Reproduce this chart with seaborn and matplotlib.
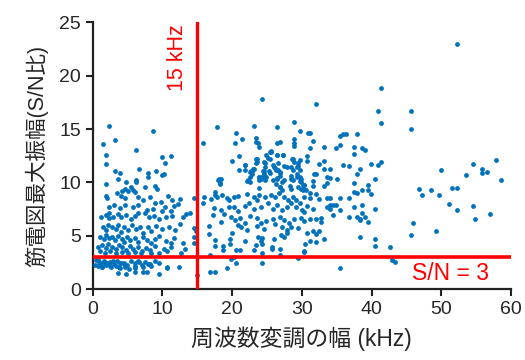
import numpy as np
import pandas as pd
import matplotlib
matplotlib.use('Agg')
import matplotlib.pyplot as plt
import seaborn as sns

sns.set_style("ticks")
plt.rcParams['font.family'] = ['Liberation Sans', 'Noto Sans CJK JP', 'DejaVu Sans']

# ---- data (kHz, S/N) ----
left_x = [2.33, 8.66, 3.19, 1.52, 6.19, 1.95, 9.94, 11.28, 1.95, 10.33, 6.61, 3.19, 3.94, 7.86, 9.04, 10.23, 9.94,
          1.95, 3.57, 4.8, 6.2, 6.25, 7.86, 7.57, 8.9, 9.28, 5.47, 5.76, 6.04, 5.09, 4.61, 4.14, 3.43, 4.09, 4.58,
          1.85, 2.04, 6.52, 7.23, 8.23, 8.9, 9.76, 10.8, 11.4, 12.5, 14.5,
          2.38, 3.0, 3.85, 4.61, 5.8, 6.52, 7.76, 8.71, 9.95, 10.33, 11.66, 12.23, 11.28,
          1.19, 1.85, 2.33, 2.33, 2.9, 3.66, 4.04, 4.8, 5.47, 6.04, 6.52, 7.47, 8.04, 8.8, 9.47, 10.5, 11.36, 12.9,
          13.4, 14.0,
          1.52, 1.85, 2.23, 2.71, 3.28, 3.57, 4.04, 4.42, 5.09, 5.57, 6.14, 6.8, 7.28, 7.95, 8.42, 9.09, 9.95, 10.9,
          11.76, 12.52, 14.5, 14.8,
          1.09, 1.57, 1.85, 2.33, 2.8, 3.19, 3.66, 4.14, 4.52, 4.9, 5.38, 6.04, 6.52, 7.28, 7.76, 8.42, 8.99, 9.57,
          10.5, 11.2, 11.66, 12.9, 14.6, 14.6,
          0.8, 1.38, 1.85, 2.23, 2.71, 3.28, 3.76, 4.23, 4.8, 5.28, 5.85, 6.52, 7.09, 7.66, 8.23, 8.9, 10.23, 10.7,
          11.28, 12.71, 13.2,
          1.09, 1.76, 2.52, 3.38, 4.14, 5.09, 6.04, 6.99, 8.42, 9.57,
          0.71, 1.19, 1.57, 2.04, 2.52, 2.99, 3.47, 3.95, 4.42, 4.9, 5.47, 6.04, 6.52, 7.09, 7.57, 8.23, 8.9, 9.47,
          0.8, 1.38, 1.95, 2.61, 3.28, 3.95, 4.61, 6.04, 7.28, 8.42, 10.6, 12.4,
          0.38, 0.85, 1.33, 0.47, 1.8, 2.52, 2.95, 3.71, 4.09, 4.66, 5.14, 6.09, 6.57, 8.0,
          3.57, 4.8, 6.04, 7.28, 7.85, 9.47, 10.7, 14.9]
left_y = [15.3, 14.8, 14.0, 13.56, 13.0, 12.56, 12.34, 12.46, 11.74, 11.84, 11.25, 11.06, 10.9, 10.9, 11.06, 10.78, 10.68,
          9.84, 10.28, 10.08, 10.2, 10.06, 10.46, 9.53, 9.65, 9.4, 9.53, 9.28, 9.07, 9.2, 9.37, 9.2, 8.97, 8.72, 8.53,
          8.72, 8.5, 8.6, 8.34, 8.65, 8.09, 8.15, 8.72, 8.34, 8.4, 8.5,
          7.71, 7.87, 7.56, 7.87, 7.71, 7.87, 7.4, 7.53, 7.34, 7.71, 7.78, 7.97, 7.34,
          6.72, 6.94, 7.1, 6.63, 6.78, 7.03, 6.72, 6.9, 6.59, 6.84, 7.1, 7.1, 6.72, 6.84, 6.56, 6.78, 6.84, 6.78,
          7.03, 7.1,
          5.84, 5.53, 6.0, 5.78, 5.6, 6.0, 5.37, 5.78, 5.53, 6.0, 5.6, 5.84, 5.22, 5.78, 5.46, 5.9, 5.6, 5.84,
          5.53, 6.09, 5.72, 5.46,
          4.9, 4.66, 5.03, 4.75, 4.9, 4.59, 4.97, 4.71, 4.43, 4.9, 4.59, 4.75, 4.4, 4.9, 4.59, 4.28, 4.71, 4.97,
          4.53, 4.28, 4.78, 4.28, 4.9, 4.34,
          3.97, 4.12, 3.81, 4.22, 3.97, 3.72, 4.09, 3.9, 3.65, 4.03, 3.78, 3.97, 3.59, 3.84, 3.65, 4.03, 3.78, 3.53,
          3.97, 3.4, 3.78,
          3.53, 3.4, 3.59, 3.35, 3.47, 3.35, 3.47, 3.35, 3.4, 3.35,
          2.72, 2.46, 2.65, 2.41, 2.56, 2.34, 2.65, 2.41, 2.46, 2.28, 2.6, 2.41, 2.65, 2.28, 2.53, 2.34, 2.6, 2.41,
          2.16, 2.03, 2.22, 2.03, 2.16, 1.97, 2.09, 1.97, 2.09, 2.16, 2.09, 2.03,
          2.25, 2.56, 2.09, 2.72, 2.4, 2.15, 2.65, 2.03, 2.47, 2.22, 1.9, 2.15, 2.53, 2.34,
          1.53, 1.4, 1.62, 1.59, 1.62, 1.4, 1.97, 1.3]

mid_x = [15.8, 24.3, 17.9, 23.1, 26.5, 28.9, 20.6, 23.4, 23.4, 23.7, 21.4, 20.4, 15.8, 29.8, 26.5, 26.9, 28.9, 28.9,
         25.6, 21.0, 26.5, 27.3, 24.9, 24.6, 23.5, 23.5, 20.0, 21.9, 21.9, 23.0, 22.7, 26.0, 26.3, 26.9, 25.5, 21.0,
         24.5, 24.7, 27.8, 28.6, 28.9, 29.4, 29.7, 29.9, 18.1, 18.3, 22.2, 22.5, 22.9, 24.4, 24.7, 23.9, 25.9, 26.5,
         27.1, 26.8, 28.4, 28.7, 29.3, 29.9, 30.3, 30.6, 16.9, 16.0, 17.5, 17.9, 18.6, 19.2, 19.6, 20.3, 20.9, 17.5,
         22.2, 23.2, 23.6, 23.9, 24.7, 25.6, 26.1, 26.7, 27.1, 27.5, 28.0, 28.7, 29.1, 29.7, 30.1,
         17.4, 18.4, 19.6, 20.3, 20.9, 21.8, 22.4, 23.2, 24.1, 25.1, 25.9, 26.5, 27.1, 27.8, 28.4, 29.2, 30.0,
         17.2, 18.8, 19.9, 20.4, 21.1, 21.8, 22.5, 23.5, 24.1, 24.9, 25.8, 26.8, 27.5, 28.1, 28.9, 29.9,
         16.7, 18.4, 20.8, 21.3, 22.2, 23.6, 24.6, 26.2, 27.1, 27.8, 28.5, 29.5,
         16.7, 20.0, 23.7, 24.3, 27.0, 27.9, 17.6, 19.7, 21.9, 24.1, 26.0, 27.4,
         17.6, 18.7, 19.7, 23.4, 24.3, 25.7, 26.9, 30.5, 18.7, 20.5, 21.1, 23.1, 24.3, 25.7, 30.3,
         16.8, 20.2, 26.9, 29.4, 19.9, 20.6, 24.3, 19.2, 16.8, 17.6,
         23.9, 25.4, 23.4, 23.4, 25.1, 24.7, 21.8, 23.1, 22.9, 22.5, 24.4, 24.6, 25.3, 23.9, 24.2, 23.8, 24.9, 25.5,
         18.0, 18.4, 18.3, 22.3, 22.6, 23.9,
         28.9, 25.6, 26.5, 27.3, 28.7, 29.4, 29.8, 26.6, 25.8, 26.1, 26.6, 26.9, 27.5, 28.5, 28.7, 29.3, 29.7, 26.5,
         26.9, 27.5, 28.5, 29.3, 29.7, 26.3, 26.8, 28.3, 29.4, 30.2, 28.5, 29.9]
mid_y = [8.09, 17.8, 15.2, 15.3, 15.2, 15.65, 14.6, 14.2, 13.8, 13.65, 14.1, 13.65, 13.65, 14.8, 13.65, 13.8, 14.1, 13.65,
         12.9, 12.5, 12.55, 12.55, 12.55, 11.9, 12.2, 11.9, 12.0, 11.6, 11.15, 11.3, 11.05, 11.4, 11.15, 11.0, 12.2, 11.15,
         11.05, 11.45, 11.45, 12.15, 11.9, 11.5, 10.5, 10.05, 10.3, 9.9, 10.15, 10.5, 10.8, 10.6, 10.2, 10.5, 10.2, 10.4,
         10.0, 9.6, 10.6, 10.2, 10.8, 10.3, 9.75, 9.3, 8.4, 8.65, 8.8, 8.6, 8.85, 8.55, 8.35, 8.6, 8.7, 9.1,
         8.9, 8.65, 8.34, 8.78, 8.6, 8.84, 8.65, 9.03, 9.28, 8.65, 8.34, 8.6, 8.34, 8.03, 9.28,
         7.56, 7.4, 7.72, 7.65, 7.34, 7.78, 8.03, 7.53, 7.72, 8.03, 7.53, 7.87, 7.4, 7.72, 8.03, 7.65, 7.4,
         6.94, 7.03, 6.78, 6.47, 6.66, 6.22, 6.84, 6.66, 6.16, 6.41, 6.59, 6.78, 6.47, 6.16, 6.53, 6.66,
         5.94, 6.28, 6.03, 5.78, 5.53, 5.9, 5.65, 6.09, 5.84, 5.53, 5.78, 5.68,
         5.15, 5.28, 4.9, 4.78, 5.09, 5.22, 4.59, 4.65, 4.47, 4.53, 4.65, 4.84,
         4.03, 4.03, 4.22, 4.09, 4.22, 3.97, 3.72, 4.22, 3.65, 3.65, 3.65, 3.65, 3.4, 3.78, 3.53,
         3.18, 2.97, 3.15, 2.87, 2.78, 2.47, 2.47, 1.97, 1.62, 1.62,
         13.3, 12.87, 12.15, 11.78, 12.25, 11.84, 11.6, 11.28, 11.03, 10.97, 11.03, 10.78, 11.09, 10.47, 10.28, 10.21,
         10.47, 10.9, 10.21, 10.28, 9.84, 10.21, 10.03, 9.47,
         13.4, 12.87, 12.56, 12.56, 12.15, 11.84, 12.1, 11.84, 11.62, 11.31, 11.15, 10.84, 11.53, 11.4, 11.15, 11.4,
         11.15, 10.28, 10.59, 10.21, 10.28, 10.53, 10.15, 9.84, 9.59, 9.65, 9.59, 9.78, 9.4, 9.34]

right_x = [41.3, 32.0, 40.9, 41.3, 30.9, 31.2, 31.6, 35.5, 35.9, 36.3, 37.9, 31.1, 33.2, 34.9, 35.5, 37.5, 37.5, 38.7,
           39.1, 30.8, 30.8, 33.2, 32.4, 35.9, 36.7, 39.9, 40.9, 41.3, 40.5, 40.5, 38.3, 35.5,
           33.2, 34.0, 31.7, 32.0, 33.6, 34.0, 35.0, 37.9, 38.3, 40.5, 39.5, 39.5, 39.9, 38.7, 37.5, 37.5, 37.9,
           31.6, 31.6, 33.2, 33.6, 31.1, 31.1, 32.0, 30.3, 30.3, 30.3, 32.4, 33.6, 34.0, 35.5, 36.7,
           34.0, 34.4, 34.9, 33.6, 34.0, 30.8, 31.6, 30.3, 37.5, 38.7, 40.5, 35.5, 34.4,
           36.7, 37.9, 38.3, 38.7, 39.1, 39.5, 38.3, 31.1, 32.0, 32.8, 32.8, 30.3,
           30.8, 31.6, 32.0, 32.4, 32.0, 31.1, 33.2, 30.3]
right_y = [18.8, 17.3, 16.65, 15.56, 14.6, 14.6, 13.9, 14.3, 14.5, 14.5, 14.5, 13.2, 13.3, 13.2, 13.5, 13.3, 12.7, 13.2,
           13.0, 12.5, 12.0, 12.0, 11.7, 11.6, 11.5, 11.7, 11.6, 11.9, 4.7, 4.0, 4.85, 1.97,
           11.25, 11.25, 10.8, 10.8, 10.5, 10.4, 10.3, 10.8, 11.25, 10.3, 9.8, 9.25, 8.9, 9.25, 9.96, 9.1, 9.0,
           10.15, 9.65, 9.65, 9.9, 9.0, 8.5, 8.9, 9.8, 9.4, 8.6, 8.4, 8.5, 8.5, 8.5, 8.5,
           7.85, 7.85, 7.9, 7.7, 7.55, 7.8, 7.5, 7.25, 7.7, 7.85, 7.55, 7.4, 6.9,
           6.75, 6.75, 6.6, 7.1, 6.75, 6.25, 6.5, 6.6, 6.6, 6.7, 6.25, 6.4,
           5.3, 5.4, 5.2, 5.4, 4.4, 4.5, 4.7, 3.5]

tail_x = [52.3, 45.6, 45.6, 49.9, 54.6, 57.8, 53.5, 55.8, 55.8, 56.6, 58.6, 46.8, 47.2, 48.5, 49.7, 51.5, 52.3,
          51.1, 52.3, 54.6, 54.9, 57.0, 46.0, 45.6, 49.3, 42.6, 42.9, 43.4]
tail_y = [22.96, 16.65, 14.97, 11.15, 11.7, 12.1, 10.7, 11.25, 10.9, 11.0, 10.2, 9.37, 8.78, 9.25, 8.78, 9.5, 9.5,
          7.93, 7.4, 7.8, 6.6, 7.0, 6.15, 5.1, 5.4, 3.9, 2.7, 2.5]

x_ticks = [0, 10, 20, 30, 40, 50, 60]
y_ticks = [0, 5, 10, 15, 20, 25]
freq_cut = 15     # kHz
sn_cut = 3        # S/N

df = pd.DataFrame({
    'width': left_x + mid_x + right_x + tail_x,
    'sn': left_y + mid_y + right_y + tail_y,
})

fig = plt.figure(figsize=(5.25, 3.6), dpi=100)
ax = fig.add_axes([0.1766, 0.197, 0.7967, 0.741])

sns.scatterplot(data=df, x='width', y='sn', ax=ax, s=12, color='#0072BD',
                linewidth=0, legend=False, zorder=3)

ax.axvline(freq_cut, color='#FF0000', lw=2.4, zorder=4)
ax.axhline(sn_cut, color='#FF0000', lw=2.6, zorder=4)
ax.text(12.2, 24.85, '15 kHz', color='#FF0000', rotation=90, ha='center', va='top', fontsize=15.5)
ax.text(56.9, 1.5, 'S/N = 3', color='#FF0000', ha='right', va='center', fontsize=16.5)

ax.set_xlim(0, 60)
ax.set_ylim(0, 25)
ax.set_xticks(x_ticks)
ax.set_yticks(y_ticks)
ax.tick_params(labelsize=14, length=5, width=1.5, color='#222222', direction='out')
for side in ['left', 'bottom']:
    ax.spines[side].set_linewidth(1.6)
    ax.spines[side].set_color('#222222')
sns.despine(ax=ax)

ax.set_xlabel('周波数変調の幅 (kHz)', fontsize=16.5, labelpad=6)
ax.set_ylabel('筋電図最大振幅(S/N比)', fontsize=15.5, labelpad=8)

plt.savefig('out.png', dpi=100)
